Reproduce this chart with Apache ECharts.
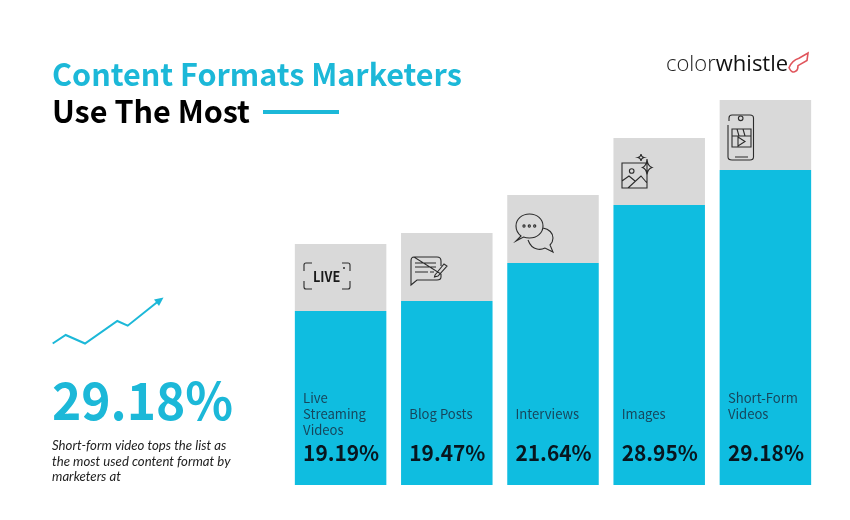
<!DOCTYPE html>
<html>
<head>
<meta charset="utf-8">
<style>
  html, body { margin: 0; padding: 0; background: #fff; }
  #chart { width: 850px; height: 520px; }
</style>
<script src="https://cdn.jsdelivr.net/npm/echarts@6/dist/echarts.min.js"></script>
</head>
<body>
<div id="chart"></div>
<script>
const categories = ['Live\nStreaming\nVideos', 'Blog Posts', 'Interviews', 'Images', 'Short-Form\nVideos'];
const shares = [19.19, 19.47, 21.64, 28.95, 29.18];
// the bars are not to scale with the shares, so the drawn heights are read separately
const barHeights = [174, 184, 222, 280, 315];
const capHeights = [67, 68, 68, 67, 70];

const BLUE = '#0fbde0';
const TITLE_BLUE = '#1cb8d8';
const GREY = '#d9d9d9';
const ICON = '#2b2b2b';
const FONT = '"Noto Sans CJK SC", sans-serif';

// graphic component has no path type, so these go through a custom series
const icons = [
  { d: 'M312 263H306Q304 263 304 265V271M304 281V287Q304 289 306 289H312M342 289H348Q350 289 350 287V281M350 271V265Q350 263 348 263H342', box: [304, 263, 46, 26] },
  { d: 'M414 257H437Q441 257 441 261V266M441 274V277Q441 280 437 280H417L411 285V261Q411 257 414 257ZM415 263H436M415 267H436M415 272H428M430 272H434M435 275L444 264L447 266L438 276L434.5 277Z', box: [411, 257, 36, 28] },
  { d: 'M521 236Q516 232 516 226C516 219 522 214 529.5 214C537 214 543 219 543 226C543 233 537 238 529.5 238Q526 238 523.5 237L516 241ZM543 228C549 229 553 233 553 238Q553 242 550 245L553 252L545 248Q541 250 537 249Q531 248 528 240', box: [516, 214, 37, 38] },
  { d: 'M622 163H647V188H622ZM622 181L629 176L635 181M628 188L641 176L647 183M647 159Q647.5 166 652 167.5Q647.5 169 647 175Q646.5 169 642.5 167.5Q646.5 166 647 159ZM641 154Q641.3 157 644 157.5Q641.3 158 641 161Q640.7 158 638 157.5Q640.7 157 641 154Z', box: [622, 154, 30, 34] },
  { d: 'M728 125V157Q728 160 732 160H750Q753.5 160 753.5 157V118Q753.5 115 750 115H732Q729 115 729 118V121M732 129H751V147H732ZM732 136H751M737 129L739 136M743 129L745 136M738 137L745 141.5L738 146ZM735 157H748', box: [728, 115, 25.5, 45] },
  { d: 'M789 67Q792 60 799 58L808 53L807 60L798 65Q798 69 796 70Q792 73 789 67Z', box: [789, 53, 19, 19], stroke: '#e0555c', lineWidth: 1.6 },
];

function renderIcon(params) {
  const item = icons[params.dataIndex];
  const [x, y, width, height] = item.box;
  return {
    type: 'path',
    shape: { pathData: item.d, x, y, width, height, layout: 'cover' },
    style: { fill: 'none', stroke: item.stroke || ICON, lineWidth: item.lineWidth || 1.1 },
  };
}

// the reference font runs a bit narrower than Noto, hence scaleX on the text
function renderBarText(params, api) {
  const i = params.dataIndex;
  const catPoint = api.coord([api.value(0), 71]);
  const sharePoint = api.coord([api.value(0), 32]);
  // two-line names start on the same row as the three-line one
  const lines = categories[i].split('\n').length;
  const catShift = lines === 2 ? -8 : 0;
  return {
    type: 'group',
    children: [
      {
        type: 'text',
        x: catPoint[0] - 37.5,
        y: catPoint[1] + catShift,
        scaleX: 0.97,
        style: {
          text: categories[i],
          fontFamily: FONT,
          fontSize: 13.5,
          lineHeight: 16,
          verticalAlign: 'middle',
          fill: '#17465c',
        },
      },
      {
        type: 'text',
        x: sharePoint[0] - 37.5,
        y: sharePoint[1],
        scaleX: 0.97,
        style: {
          text: `${shares[i].toFixed(2)}%`,
          fontFamily: FONT,
          fontSize: 21.5,
          fontWeight: 700,
          verticalAlign: 'middle',
          fill: '#08161f',
        },
      },
    ],
  };
}

function dot(cx, cy, r, style) {
  return {
    type: 'circle',
    silent: true,
    shape: { cx, cy, r },
    style: { fill: 'none', stroke: ICON, lineWidth: 1.1, ...style },
    z: 10,
  };
}

function text(str, x, y, style, scaleX) {
  return {
    type: 'text',
    silent: true,
    x,
    y,
    scaleX: scaleX || 1,
    style: { text: str, fontFamily: FONT, verticalAlign: 'middle', ...style },
    z: 10,
  };
}

const captionStyle = { fontFamily: 'Lato', fontStyle: 'italic', fontSize: 13.2, fill: '#222' };

const decorations = [
  // title and the underline next to it
  text('Content Formats Marketers', 52, 74, { fontSize: 31, fontWeight: 700, fill: TITLE_BLUE }, 0.985),
  text('Use The Most', 52, 111, { fontSize: 31, fontWeight: 700, fill: '#000' }, 0.985),
  { type: 'rect', silent: true, shape: { x: 263, y: 110, width: 76, height: 4 }, style: { fill: TITLE_BLUE } },

  // logo
  {
    type: 'text',
    silent: true,
    x: 666,
    y: 65,
    style: {
      text: '{a|color}{b|whistle}',
      verticalAlign: 'middle',
      rich: {
        a: { fontFamily: '"Open Sans"', fontWeight: 300, fontSize: 22, fill: '#222' },
        b: { fontFamily: '"Open Sans"', fontWeight: 400, fontSize: 22, fill: '#111' },
      },
    },
  },

  // trend line
  {
    type: 'polyline',
    silent: true,
    shape: { points: [[52.7, 343.5], [65.7, 335], [85, 343.5], [117.3, 321], [127.7, 325.7], [158, 301.5]] },
    style: { fill: 'none', stroke: TITLE_BLUE, lineWidth: 2 },
  },
  {
    type: 'polygon',
    silent: true,
    shape: { points: [[163.5, 297.5], [154, 299.5], [159, 306]] },
    style: { fill: TITLE_BLUE },
  },

  // left column
  text('29.18%', 52, 400, { fontSize: 52, fontWeight: 700, fill: TITLE_BLUE }, 0.955),
  text('Short-form video tops the list as', 52, 446, captionStyle),
  text('the most used content format by', 52, 462, captionStyle),
  text('marketers at', 52, 477, captionStyle),

  // bits of the icons
  text('LIVE', 313, 276.5, { fontSize: 13.7, fontWeight: 700, fill: '#1a1a1a' }, 0.93),
  dot(344, 268, 1, { fill: ICON, stroke: 'none' }),
  dot(524, 226, 1.1),
  dot(529.3, 226, 1.1),
  dot(534.7, 226, 1.1),
  dot(631.7, 171, 2.3),
  dot(740.7, 118.3, 2.3),
];

const chart = echarts.init(document.getElementById('chart'));
chart.setOption({
  animation: false,
  backgroundColor: '#fff',
  grid: { left: 287.5, width: 531, top: 85, height: 400 },
  xAxis: { type: 'category', data: categories, show: false },
  yAxis: { type: 'value', min: 0, max: 400, show: false },
  series: [
    {
      type: 'bar',
      stack: 'bars',
      barWidth: 91.5,
      silent: true,
      itemStyle: { color: BLUE },
      data: barHeights,
    },
    {
      type: 'bar',
      stack: 'bars',
      barWidth: 91.5,
      silent: true,
      itemStyle: { color: GREY },
      data: capHeights,
    },
    {
      type: 'custom',
      silent: true,
      z: 5,
      renderItem: renderBarText,
      encode: { x: 0 },
      data: categories.map((c, i) => [i, shares[i]]),
    },
    {
      type: 'custom',
      coordinateSystem: 'none',
      silent: true,
      z: 10,
      renderItem: renderIcon,
      data: icons.map((_, i) => [i]),
    },
  ],
  graphic: { elements: decorations },
});
</script>
</body>
</html>
